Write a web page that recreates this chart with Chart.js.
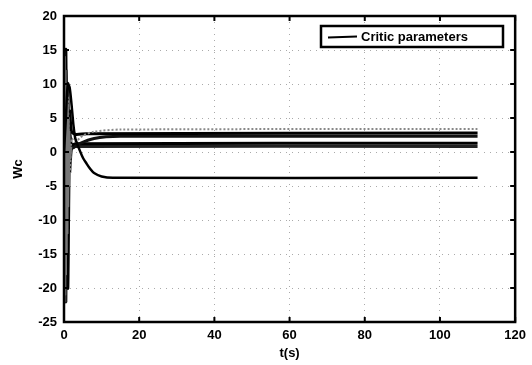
<!DOCTYPE html>
<html>
<head>
<meta charset="utf-8">
<script src="https://cdn.jsdelivr.net/npm/chart.js@4.4.1/dist/chart.umd.min.js"></script>
<style>
html,body{margin:0;padding:0;background:#fff;}
#wrap{width:532px;height:365px;position:relative;}
</style>
</head>
<body>
<div id="wrap"><canvas id="c" width="532" height="365"></canvas></div>
<script>
// ---- data ----
const xTicks = [0, 20, 40, 60, 80, 100, 120];
const yTicks = [-25, -20, -15, -10, -5, 0, 5, 10, 15, 20];
const legendLabel = "Critic parameters";
const xTitle = "t(s)";
const yTitle = "Wc";

// fast oscillating transient band near t = 0
const tBand = [0, 0.1, 0.2, 0.3, 0.4, 0.5, 0.6, 0.7, 0.8, 0.9, 1.0, 1.1, 1.2, 1.3, 1.4, 1.5, 1.7, 2.0];
const wBand = [0, 15, -22, 14, -21, 12, -18, 10, -15, 9, -12, 7, -8, 5, -5, 3, -1, 0.8];

// converging weights
const tA = [0, 0.5, 1, 1.5, 2, 3, 5, 8, 15, 110];
const wA = [0, -6, 8, -4, 2, 1.5, 2.4, 3.0, 3.3, 3.4];
const tB = [0, 0.5, 1, 1.5, 2, 3, 6, 110];
const wB = [0, 12, -8, 6, 3, 2.6, 2.7, 2.8];
const tC = [0, 0.5, 1, 1.5, 2, 4, 8, 15, 110];
const wC = [0, -12, 5, 2, 0.5, 1.2, 2.0, 2.3, 2.3];
const tD = [0, 0.5, 1, 1.5, 2, 3, 110];
const wD = [0, 15, -20, 3, 1, 1.2, 1.3];
const tE = [0, 0.5, 1, 1.5, 2, 3, 110];
const wE = [0, -22, 10, -3, 0.5, 0.8, 0.8];
const tF = [0, 0.5, 1, 1.5, 2, 2.5, 3, 4, 5, 6, 7, 8, 10, 13, 110];
const wF = [0, 5, 10, 9.5, 7, 4, 2, 0.5, -0.8, -1.7, -2.5, -3.1, -3.6, -3.8, -3.8];

function pts(t, w){ return t.map((x,i)=>({x:x, y:w[i]})); }

const FONT = "'Liberation Sans', Arial, sans-serif";

const frame = {
  id:'frame',
  afterDraw(chart){
    const {ctx, chartArea:a, scales} = chart;
    ctx.save();
    // inside ticks
    ctx.strokeStyle = '#000'; ctx.lineWidth = 2;
    ctx.beginPath();
    xTicks.forEach(v=>{ const px = scales.x.getPixelForValue(v);
      ctx.moveTo(px,a.bottom); ctx.lineTo(px,a.bottom-5);
      ctx.moveTo(px,a.top); ctx.lineTo(px,a.top+5); });
    yTicks.forEach(v=>{ const py = scales.y.getPixelForValue(v);
      ctx.moveTo(a.left,py); ctx.lineTo(a.left+5,py);
      ctx.moveTo(a.right,py); ctx.lineTo(a.right-5,py); });
    ctx.stroke();
    // frame
    ctx.lineWidth = 2.5;
    ctx.strokeRect(a.left, a.top, a.right-a.left, a.bottom-a.top);
    // legend box
    const bx = 321, by = 26, bw = 182, bh = 21;
    ctx.fillStyle = '#fff';
    ctx.fillRect(bx,by,bw,bh);
    ctx.lineWidth = 2.5;
    ctx.strokeRect(bx,by,bw,bh);
    ctx.lineWidth = 2;
    ctx.beginPath(); ctx.moveTo(bx+7, by+bh/2+1); ctx.lineTo(bx+36, by+bh/2); ctx.stroke();
    ctx.fillStyle = '#000';
    ctx.font = "bold 13px " + FONT;
    ctx.textBaseline = 'middle'; ctx.textAlign = 'left';
    ctx.fillText(legendLabel, bx+40, by+bh/2+1);
    ctx.restore();
  }
};

new Chart(document.getElementById('c'), {
  type: 'line',
  data: {
    datasets: [
      {label: legendLabel, data: pts(tF, wF), borderColor:'#000', borderWidth:2.5},
      {label: 'band', data: pts(tBand, wBand), borderColor:'#777', borderWidth:1.5},
      {label: 'a', data: pts(tA, wA), borderColor:'#888', borderWidth:2, borderDash:[2,2]},
      {label: 'b', data: pts(tB, wB), borderColor:'#000', borderWidth:3},
      {label: 'c', data: pts(tC, wC), borderColor:'#111', borderWidth:3},
      {label: 'd', data: pts(tD, wD), borderColor:'#000', borderWidth:3},
      {label: 'e', data: pts(tE, wE), borderColor:'#222', borderWidth:3}
    ]
  },
  options: {
    responsive: false,
    animation: false,
    devicePixelRatio: 1,
    layout: {padding: {left: 11, right: 16, top: 16, bottom: 4}},
    elements: {point: {radius: 0}, line: {tension: 0.25, fill: false}},
    plugins: {legend: {display:false}, tooltip: {enabled:false}},
    scales: {
      x: {
        type: 'linear', min: 0, max: 120,
        afterBuildTicks(s){ s.ticks = xTicks.map(v=>({value:v})); },
        afterFit(s){ s.height = 39; },
        grid: {color:'#aaa', lineWidth:1, drawTicks:false},
        border: {display:false, dash:[1,5]},
        ticks: {color:'#000', padding:6, font:{family:FONT, size:13, weight:'bold'}, maxRotation:0},
        title: {display:true, text:xTitle, color:'#000', padding:{top:0,bottom:0}, font:{family:FONT, size:13, weight:'bold'}}
      },
      y: {
        min: -25, max: 20,
        afterBuildTicks(s){ s.ticks = yTicks.map(v=>({value:v})); },
        afterFit(s){ s.width = 53; },
        grid: {color:'#aaa', lineWidth:1, drawTicks:false},
        border: {display:false, dash:[1,5]},
        ticks: {color:'#000', padding:7, font:{family:FONT, size:13, weight:'bold'}},
        title: {display:true, text:yTitle, color:'#000', padding:{top:0,bottom:0}, font:{family:FONT, size:13, weight:'bold'}}
      }
    }
  },
  plugins: [frame]
});
</script>
</body>
</html>
